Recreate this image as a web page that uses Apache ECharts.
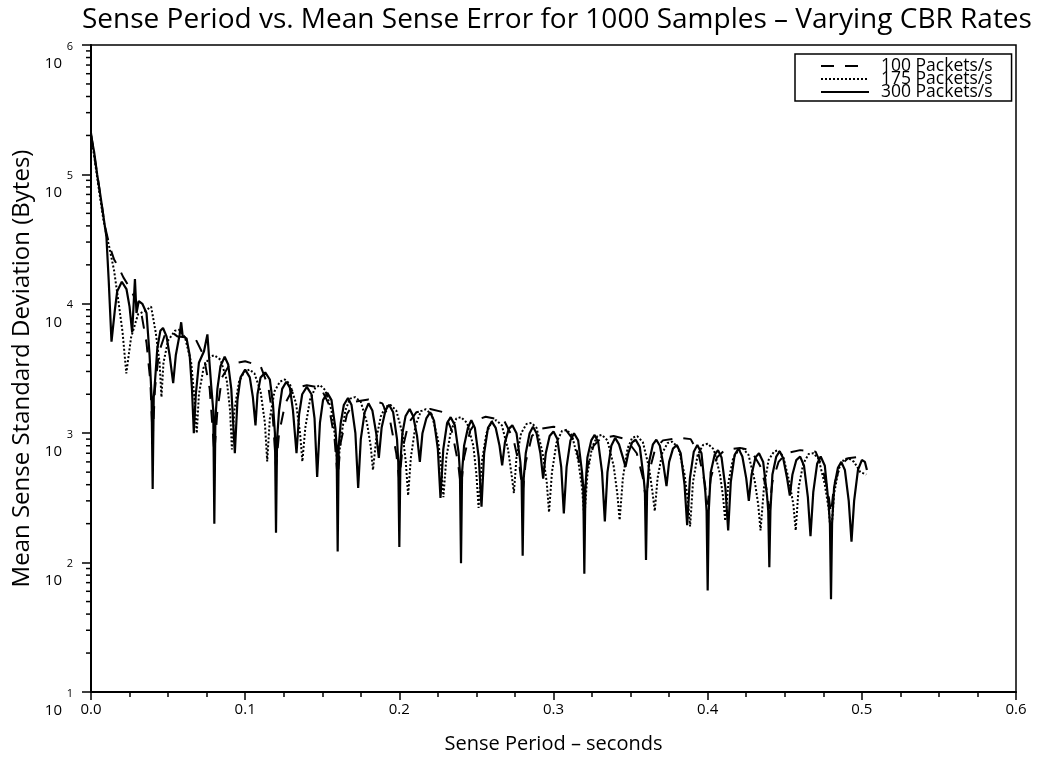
<!DOCTYPE html>
<html>
<head>
<meta charset="utf-8">
<script src="https://cdn.jsdelivr.net/npm/echarts@6/dist/echarts.min.js"></script>
<style>
html,body{margin:0;padding:0;background:#fff;}
#chart{width:1039px;height:772px;}
</style>
</head>
<body>
<div id="chart"></div>
<script>
// ---- Data (x: sense period in s, y: mean sense standard deviation in bytes) ----
const seriesNames = ['100 Packets/s', '175 Packets/s', '300 Packets/s'];
const xTickLabels = ['0.0', '0.1', '0.2', '0.3', '0.4', '0.5', '0.6'];
const yTickExponents = [1, 2, 3, 4, 5, 6];

const rate100 = [
  [0, 210000], [0.003, 120000], [0.006, 70000], [0.009, 40000], [0.012, 28000], [0.015, 22000],
  [0.018, 19000], [0.021, 16000], [0.024, 14000], [0.027, 12000], [0.030, 10000], [0.033, 8000],
  [0.036, 5000], [0.0385, 2500], [0.04, 900],
  [0.0415, 2200], [0.044, 4200], [0.048, 5800], [0.052, 6100], [0.056, 5600], [0.062, 5500],
  [0.068, 5300], [0.073, 4000], [0.077, 2200], [0.08, 700],
  [0.082, 1500], [0.085, 2700], [0.09, 3400], [0.1, 3600], [0.11, 3300], [0.115, 2300], [0.118, 1300], [0.12, 550],
  [0.122, 1000], [0.126, 1700], [0.131, 2200], [0.14, 2350], [0.149, 2250], [0.154, 1700], [0.158, 900], [0.16, 450],
  [0.162, 850], [0.166, 1400], [0.171, 1750], [0.18, 1820], [0.189, 1700], [0.194, 1250], [0.198, 700], [0.20, 430],
  [0.202, 750], [0.206, 1200], [0.211, 1450], [0.22, 1540], [0.229, 1450], [0.234, 1050], [0.238, 600], [0.24, 380],
  [0.242, 650], [0.246, 1050], [0.251, 1280], [0.256, 1340], [0.268, 1250], [0.274, 900], [0.278, 550], [0.28, 350],
  [0.282, 600], [0.286, 950], [0.291, 1080], [0.30, 1120], [0.307, 1100], [0.314, 850], [0.318, 500], [0.32, 320],
  [0.322, 550], [0.326, 800], [0.331, 920], [0.339, 950], [0.347, 900], [0.354, 700], [0.358, 450], [0.36, 300],
  [0.362, 500], [0.366, 760], [0.371, 880], [0.382, 920], [0.389, 900], [0.394, 700], [0.398, 420], [0.40, 280],
  [0.402, 450], [0.406, 650], [0.411, 740], [0.421, 770], [0.428, 740], [0.434, 560], [0.438, 380], [0.44, 260],
  [0.442, 420], [0.446, 600], [0.451, 700], [0.46, 740], [0.47, 720], [0.474, 560], [0.478, 360], [0.48, 240],
  [0.482, 400], [0.486, 560], [0.491, 640], [0.4995, 660], [0.5025, 640]
];

const rate175 = [
  [0, 200000], [0.002, 140000], [0.004, 95000], [0.006, 65000], [0.008, 45000], [0.010, 34000],
  [0.012, 27000], [0.015, 18000], [0.018, 10000], [0.0205, 6000], [0.0229, 2900],
  [0.026, 5500], [0.0305, 8300], [0.035, 8800], [0.039, 9500], [0.042, 6000], [0.0445, 3500], [0.0457, 1900],
  [0.047, 3500], [0.05, 5200], [0.0545, 6200], [0.0571, 6300], [0.061, 5500], [0.065, 3500], [0.0672, 1800], [0.0686, 1000],
  [0.07, 2000], [0.073, 3200], [0.077, 3900], [0.08, 4000], [0.084, 3700], [0.088, 2600], [0.0902, 1500], [0.0914, 750],
  [0.093, 1500], [0.096, 2500], [0.0995, 3000], [0.1029, 3100], [0.106, 2900], [0.11, 2100], [0.1128, 1200], [0.1143, 605],
  [0.116, 1300], [0.119, 2100], [0.1225, 2500], [0.1257, 2600], [0.129, 2400], [0.133, 1700], [0.1356, 1000], [0.1371, 605],
  [0.139, 1100], [0.142, 1800], [0.1455, 2250], [0.1486, 2350], [0.152, 2150], [0.156, 1500], [0.1585, 900], [0.16, 520],
  [0.162, 900], [0.165, 1500], [0.168, 1850], [0.1714, 1900], [0.175, 1750], [0.179, 1200], [0.1814, 800], [0.1829, 520],
  [0.185, 900], [0.188, 1350], [0.191, 1600], [0.1943, 1650], [0.198, 1500], [0.202, 1000], [0.2042, 600], [0.2057, 330],
  [0.2075, 650], [0.2105, 1150], [0.214, 1480], [0.2171, 1530], [0.221, 1400], [0.225, 900], [0.2272, 550], [0.2286, 320],
  [0.2305, 650], [0.2335, 1050], [0.237, 1300], [0.24, 1330], [0.244, 1200], [0.248, 800], [0.25, 480], [0.2514, 265],
  [0.2535, 600], [0.2565, 1000], [0.26, 1230], [0.2629, 1260], [0.2665, 1150], [0.2705, 750], [0.2728, 480], [0.2743, 345],
  [0.276, 650], [0.279, 1000], [0.2825, 1180], [0.2857, 1200], [0.289, 1100], [0.293, 700], [0.2956, 420], [0.2971, 245],
  [0.299, 500], [0.302, 850], [0.3055, 1040], [0.3086, 1060], [0.312, 960], [0.316, 620], [0.3185, 380], [0.32, 220],
  [0.322, 480], [0.325, 780], [0.3285, 950], [0.3314, 970], [0.335, 880], [0.339, 560], [0.3414, 340], [0.3429, 213],
  [0.345, 450], [0.348, 760], [0.351, 920], [0.3543, 950], [0.358, 850], [0.362, 540], [0.3642, 350], [0.3657, 250],
  [0.3675, 450], [0.3705, 700], [0.374, 840], [0.3771, 860], [0.381, 770], [0.385, 480], [0.3872, 300], [0.3886, 190],
  [0.3905, 420], [0.3935, 680], [0.397, 810], [0.40, 830], [0.404, 750], [0.408, 480], [0.41, 320], [0.4114, 210],
  [0.4135, 420], [0.4165, 640], [0.42, 740], [0.4229, 760], [0.4265, 680], [0.4305, 430], [0.4328, 280], [0.4343, 177],
  [0.4365, 380], [0.4395, 620], [0.443, 720], [0.4457, 740], [0.449, 660], [0.453, 420], [0.4556, 280], [0.4571, 177],
  [0.459, 380], [0.462, 580], [0.4655, 690], [0.4686, 700], [0.472, 630], [0.476, 400], [0.4785, 260], [0.48, 160],
  [0.482, 340], [0.485, 530], [0.4885, 630], [0.4914, 640], [0.495, 600], [0.499, 500], [0.5029, 480]
];

const rate300 = [
  [0, 200000], [0.002, 150000], [0.004, 100000], [0.006, 70000], [0.008, 48000], [0.010, 33000], [0.0115, 15000], [0.0133, 5100],
  [0.0155, 9000], [0.017, 12500], [0.02, 14800], [0.023, 13000], [0.025, 9500], [0.0267, 6000],
  [0.0285, 15500], [0.0295, 8500], [0.031, 10500], [0.0333, 10000], [0.036, 8500], [0.038, 4000], [0.0393, 1900], [0.04, 370], [0.0407, 1900],
  [0.0415, 2500], [0.043, 4500], [0.045, 6200], [0.0467, 6500], [0.049, 5600], [0.051, 4000], [0.0533, 2440],
  [0.055, 4000], [0.0575, 5800], [0.0585, 7200], [0.0595, 5600], [0.062, 5400], [0.064, 4000], [0.0655, 2200], [0.0667, 1000],
  [0.068, 2000], [0.07, 3500], [0.0733, 4300], [0.0755, 5800], [0.0765, 4000], [0.078, 2300], [0.0793, 1500], [0.08, 200], [0.0807, 1300],
  [0.082, 2200], [0.084, 3300], [0.0867, 3900], [0.089, 3400], [0.091, 2200], [0.0933, 700],
  [0.095, 1800], [0.097, 2700], [0.1, 3100], [0.103, 2700], [0.105, 1900], [0.1067, 1150],
  [0.108, 2000], [0.11, 2700], [0.113, 2950], [0.116, 2600], [0.118, 1700], [0.1193, 1000], [0.12, 170], [0.1207, 900],
  [0.122, 1500], [0.124, 2200], [0.1267, 2500], [0.129, 2250], [0.131, 1500], [0.1333, 700],
  [0.135, 1400], [0.137, 2000], [0.14, 2280], [0.143, 2000], [0.145, 1300], [0.1467, 460],
  [0.1485, 1200], [0.1505, 1800], [0.1533, 2050], [0.156, 1800], [0.1585, 1100], [0.1593, 800], [0.16, 122], [0.1607, 800],
  [0.162, 1200], [0.164, 1650], [0.1667, 1870], [0.169, 1650], [0.1715, 1000], [0.1733, 377],
  [0.175, 900], [0.1775, 1450], [0.18, 1700], [0.1825, 1500], [0.185, 1000], [0.1867, 645],
  [0.1885, 1100], [0.191, 1500], [0.1933, 1660], [0.196, 1450], [0.1985, 900], [0.1993, 600], [0.2, 132], [0.2007, 600],
  [0.202, 1000], [0.204, 1350], [0.2067, 1540], [0.209, 1350], [0.2115, 950], [0.2133, 600],
  [0.215, 1000], [0.2175, 1300], [0.22, 1450], [0.2225, 1250], [0.225, 750], [0.2267, 316],
  [0.2285, 750], [0.231, 1200], [0.2333, 1330], [0.236, 1150], [0.2385, 700], [0.2393, 500], [0.24, 99], [0.2407, 500],
  [0.242, 800], [0.2445, 1100], [0.2467, 1260], [0.249, 1100], [0.2515, 650], [0.2533, 270],
  [0.255, 700], [0.2575, 1100], [0.26, 1230], [0.2625, 1100], [0.265, 800], [0.2667, 565],
  [0.2685, 850], [0.271, 1080], [0.2733, 1150], [0.276, 1000], [0.2785, 600], [0.2793, 450], [0.28, 113], [0.2807, 450],
  [0.282, 700], [0.2845, 1000], [0.2867, 1120], [0.289, 1000], [0.2915, 700], [0.2933, 445],
  [0.295, 700], [0.2975, 950], [0.30, 1030], [0.3025, 900], [0.305, 550], [0.3067, 240],
  [0.3085, 550], [0.311, 880], [0.3133, 1000], [0.316, 880], [0.3185, 500], [0.3193, 380], [0.32, 82], [0.3207, 380],
  [0.322, 650], [0.3245, 880], [0.3267, 970], [0.329, 850], [0.3315, 500], [0.3333, 208],
  [0.335, 500], [0.3375, 800], [0.34, 920], [0.3425, 820], [0.345, 650], [0.3467, 550],
  [0.3485, 700], [0.351, 850], [0.3533, 890], [0.356, 780], [0.3585, 450], [0.3593, 350], [0.36, 105], [0.3607, 350],
  [0.362, 600], [0.3645, 820], [0.3667, 890], [0.369, 800], [0.3715, 550], [0.3733, 390],
  [0.375, 600], [0.3775, 760], [0.38, 810], [0.3825, 700], [0.385, 400], [0.3867, 195],
  [0.3885, 450], [0.391, 720], [0.3933, 810], [0.396, 700], [0.3985, 350], [0.3993, 250], [0.40, 61], [0.4007, 250],
  [0.402, 500], [0.4045, 680], [0.4067, 740], [0.409, 650], [0.4115, 380], [0.4133, 177],
  [0.415, 420], [0.4175, 680], [0.42, 760], [0.4225, 660], [0.425, 450], [0.4267, 300],
  [0.4285, 480], [0.431, 650], [0.4333, 700], [0.436, 600], [0.4385, 330], [0.4393, 250], [0.44, 92], [0.4407, 250],
  [0.442, 480], [0.4445, 660], [0.4467, 725], [0.449, 640], [0.4515, 450], [0.4533, 330],
  [0.455, 480], [0.4575, 620], [0.46, 660], [0.4625, 560], [0.465, 320], [0.4667, 160],
  [0.4685, 350], [0.471, 580], [0.4733, 660], [0.476, 560], [0.4785, 280], [0.4793, 200], [0.48, 52], [0.4807, 200],
  [0.482, 380], [0.4845, 540], [0.4867, 600], [0.489, 520], [0.4915, 300], [0.4933, 145],
  [0.495, 300], [0.4975, 520], [0.50, 620], [0.502, 600], [0.5033, 520]
];

// minor tick positions for the log axis (2..9 x 10^n)
const yMinorTicks = [];
for (let e = 1; e < 6; e++) for (let m = 2; m <= 9; m++) yMinorTicks.push([0, m * Math.pow(10, e)]);

const FONT = 'Open Sans';
const chart = echarts.init(document.getElementById('chart'), null, {renderer: 'canvas'});

chart.setOption({
  animation: false,
  backgroundColor: '#fff',
  textStyle: {fontFamily: FONT, color: '#000'},
  title: {
    text: 'Sense Period vs. Mean Sense Error for 1000 Samples \u2013 Varying CBR Rates',
    left: 77, top: 1,
    textStyle: {fontFamily: FONT, fontSize: 28, fontWeight: 'normal', color: '#000'}
  },
  grid: {left: 91, right: 23, top: 45, bottom: 80, show: true, borderColor: '#000', borderWidth: 1.5,
    backgroundColor: 'transparent', containLabel: false, outerBoundsMode: 'none'},
  legend: {
    orient: 'vertical', left: 795, top: 54,
    data: seriesNames,
    itemWidth: 48, itemHeight: 12, itemGap: -5,
    padding: [3, 19, 0, 25],
    borderColor: '#000', borderWidth: 1.5,
    itemStyle: {opacity: 0},
    textStyle: {fontFamily: FONT, fontSize: 17.5, color: '#000', padding: [0, 0, 0, 7]},
    inactiveColor: '#000'
  },
  xAxis: {
    type: 'value', min: 0, max: 0.6, interval: 0.1,
    name: 'Sense Period \u2013 seconds', nameLocation: 'middle', nameGap: 42,
    nameTextStyle: {fontFamily: FONT, fontSize: 20, color: '#000'},
    axisLine: {show: true, lineStyle: {color: '#000', width: 2}},
    axisTick: {show: true, inside: false, length: 8, lineStyle: {color: '#000', width: 1.5}},
    minorTick: {show: true, splitNumber: 4, length: 5, lineStyle: {color: '#000', width: 1.5}},
    splitLine: {show: false},
    axisLabel: {fontFamily: FONT, fontSize: 15, color: '#000', margin: 10,
      formatter: function (v) { return xTickLabels[Math.round(v * 10)]; }}
  },
  yAxis: {
    type: 'log', logBase: 10, min: 10, max: 1000000,
    name: 'Mean Sense Standard Deviation (Bytes)', nameLocation: 'middle', nameGap: 56,
    nameTextStyle: {fontFamily: FONT, fontSize: 24, color: '#000'},
    axisLine: {show: true, lineStyle: {color: '#000', width: 2}},
    axisTick: {show: true, inside: false, length: 9, lineStyle: {color: '#000', width: 1.5}},
    splitLine: {show: false},
    axisLabel: {
      margin: 18, verticalAlign: 'top', align: 'right',
      padding: [-6, 0, 0, 0],
      formatter: function (v) {
        const e = Math.round(Math.log10(v));
        return '{e|' + yTickExponents[e - 1] + '}\n{b|10}';
      },
      rich: {
        e: {fontFamily: FONT, fontSize: 11, color: '#000', lineHeight: 15},
        b: {fontFamily: FONT, fontSize: 15, color: '#000', lineHeight: 19, padding: [0, 11, 0, 0]}
      }
    }
  },
  series: [
    {
      name: seriesNames[0], type: 'line', data: rate100, symbol: 'none', showSymbol: false,
      lineStyle: {color: '#000', width: 2, type: [13, 11]}, itemStyle: {color: '#000'}, z: 3
    },
    {
      name: seriesNames[1], type: 'line', data: rate175, symbol: 'none', showSymbol: false,
      lineStyle: {color: '#000', width: 2, type: [2, 2]}, itemStyle: {color: '#000'}, z: 3
    },
    {
      name: seriesNames[2], type: 'line', data: rate300, symbol: 'none', showSymbol: false,
      lineStyle: {color: '#000', width: 2.2, type: 'solid'}, itemStyle: {color: '#000'}, z: 4
    },
    {
      type: 'custom', data: yMinorTicks, clip: false, silent: true, z: 5,
      renderItem: function (params, api) {
        const p = api.coord([api.value(0), api.value(1)]);
        return {type: 'line', shape: {x1: p[0] - 5, y1: p[1], x2: p[0], y2: p[1]},
          style: {stroke: '#000', lineWidth: 1.5}};
      }
    }
  ]
});
</script>
</body>
</html>
